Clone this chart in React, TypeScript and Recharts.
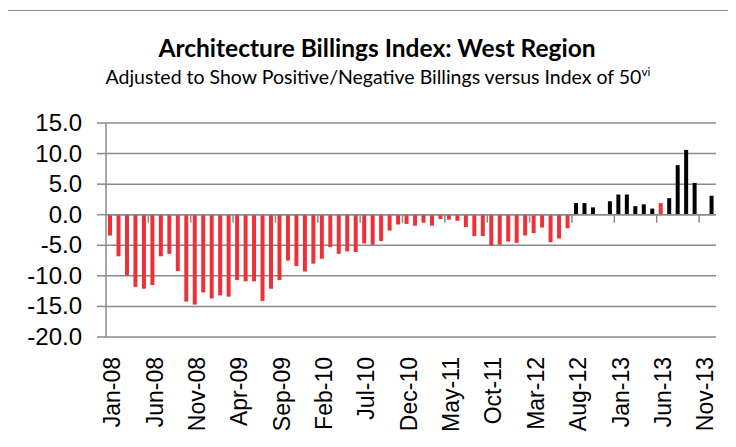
import { BarChart, Bar, Cell, XAxis, YAxis, CartesianGrid, ReferenceLine } from "recharts";

// monthly categories Jan-08 .. Dec-13
const years = ["08", "09", "10", "11", "12", "13"];
const monthNames = ["Jan", "Feb", "Mar", "Apr", "May", "Jun", "Jul", "Aug", "Sep", "Oct", "Nov", "Dec"];
const months = years.flatMap((y) => monthNames.map((m) => `${m}-${y}`));

// ABI West minus 50
const abiWest: (number | null)[] = [
  -3.4, -6.8, -9.9, -11.8, -12.1, -11.5, -6.8, -6.4, -9.2, -14.2, -14.7, -12.7,
  -13.7, -13.2, -13.4, -10.7, -10.9, -10.9, -14.1, -12.1, -10.7, -7.5, -8.4, -9.3,
  -8.0, -7.2, -5.3, -6.4, -6.0, -6.1, -4.7, -4.9, -4.3, -2.6, -1.6, -1.5,
  -1.8, -1.3, -1.8, -0.7, -0.8, -1.0, -2.0, -3.5, -3.5, -5.0, -4.9, -4.4,
  -4.6, -3.4, -3.0, -2.1, -4.5, -3.9, -2.2, 1.9, 1.9, 1.2, null, 2.2,
  3.3, 3.3, 1.4, 1.7, 1.0, 1.9, 2.7, 8.1, 10.6, 5.2, null, 3.1,
];
const highlighted = ["Jun-13"];
const yTicks = [-20, -15, -10, -5, 0, 5, 10, 15];

const RED = "#ED3237";
const GRID = "#8A8A8A";
const FONT = "'Liberation Sans', Arial, sans-serif";

const data = months.map((month, i) => ({ month, value: abiWest[i] }));

function MonthTick({ x, y, payload }: any) {
  return (
    <g transform={`translate(${x},${y})`}>
      <text transform="rotate(-90)" x={-20} y={10} textAnchor="end" fontFamily={FONT} fontSize={23} fill="#000">
        {payload.value}
      </text>
    </g>
  );
}

function ValueTick({ x, y, payload }: any) {
  return (
    <text x={x - 13} y={y} dy={8} textAnchor="end" fontFamily={FONT} fontSize={24} fill="#000">
      {Number(payload.value).toFixed(1)}
    </text>
  );
}

// horizontal axis crosses at 0, tick marks every 5 months
function ZeroAxis(props: any) {
  const { x1, y1, x2, y2 } = props;
  const step = (x2 - x1) / months.length;
  const marks: number[] = [];
  for (let i = 5; i < months.length; i += 5) marks.push(x1 + i * step);
  return (
    <g>
      <line x1={x1} y1={y1} x2={x2} y2={y2} stroke={GRID} strokeWidth={1.5} />
      {marks.map((mx) => (
        <line key={mx} x1={mx} x2={mx} y1={y1} y2={y1 + 8} stroke={GRID} strokeWidth={1.5} />
      ))}
    </g>
  );
}

export default function App() {
  return (
    <div style={{ position: "relative", width: 736, height: 447, margin: -8, overflow: "hidden", background: "#fff" }}>
      <div
        style={{
          position: "absolute",
          left: 5,
          top: 10,
          width: 800,
          height: 500,
          border: "1.5px solid #8C8C8C",
          boxSizing: "border-box",
        }}
      />
      <svg width={736} height={100} style={{ position: "absolute", left: 0, top: 0 }}>
        <text x={377} y={57} textAnchor="middle" fontFamily="Lato, sans-serif" fontWeight={700} fontSize={24.5} fill="#000">
          Architecture Billings Index: West Region
        </text>
        <text x={378} y={84} textAnchor="middle" fontFamily="Lato, sans-serif" fontSize={19.5} fill="#000">
          Adjusted to Show Positive/Negative Billings versus Index of 50
          <tspan fontSize={12} dy={-8}>vi</tspan>
        </text>
      </svg>
      <div style={{ position: "absolute", left: 0, top: 0 }}>
        <BarChart width={736} height={447} data={data} margin={{ top: 123, right: 20, left: 0, bottom: 0 }} barCategoryGap="24%">
          <CartesianGrid vertical={false} stroke={GRID} strokeWidth={1.5} />
          <XAxis
            dataKey="month"
            interval={4}
            height={110}
            axisLine={false}
            tickLine={false}
            tickSize={0}
            tickMargin={0}
            tick={<MonthTick />}
          />
          <YAxis
            width={106}
            domain={[-20, 15]}
            ticks={yTicks}
            interval={0}
            axisLine={{ stroke: GRID, strokeWidth: 1.5 }}
            tickLine={{ stroke: GRID, strokeWidth: 1.5 }}
            tickSize={9}
            tick={<ValueTick />}
          />
          <Bar dataKey="value" isAnimationActive={false}>
            {data.map((d) => (
              <Cell
                key={d.month}
                fill={(d.value ?? 0) < 0 || highlighted.includes(d.month) ? RED : "#000"}
              />
            ))}
          </Bar>
          <ReferenceLine y={0} shape={<ZeroAxis />} />
        </BarChart>
      </div>
    </div>
  );
}
